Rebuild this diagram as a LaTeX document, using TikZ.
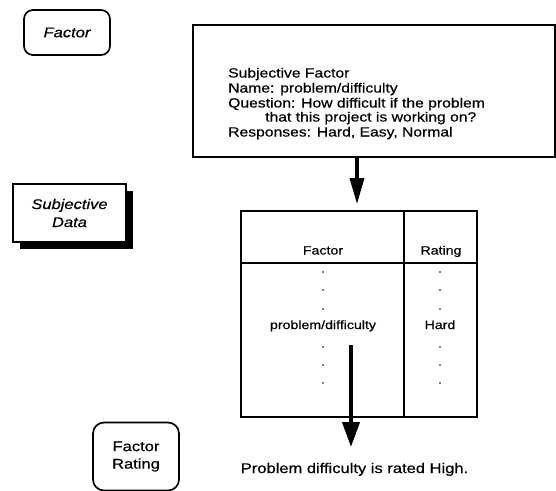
\documentclass[tikz,border=0pt]{standalone}
\usepackage{fontspec}
\setmainfont[FakeStretch=1.18, FakeBold=0.5]{Liberation Sans}
\usetikzlibrary{arrows.meta,shadows}
\begin{document}
\begin{tikzpicture}[x=1pt,y=-1pt,
  tagfont/.style={font=\fontsize{14}{17.5}\selectfont},
  tagbox/.style={draw, line width=1.7pt, rounded corners=9pt, align=center, inner sep=0pt, tagfont},
  shadowbox/.style={draw, fill=white, line width=1.6pt, align=center, inner sep=0pt, tagfont,
    drop shadow={shadow xshift=7pt, shadow yshift=-7pt, fill=black, opacity=1}},
  formbox/.style={draw, line width=2.3pt, inner sep=0pt},
  formtext/.style={font=\fontsize{13.3}{15}\selectfont, anchor=base west, inner sep=0pt},
  celltext/.style={font=\fontsize{12}{14}\selectfont, anchor=base, inner sep=0pt},
  celldot/.style={circle, fill, inner sep=0pt, minimum size=1.7pt},
  rule/.style={line width=1.8pt},
  bigarrow/.style={line width=3.5pt, -{Triangle[length=26pt,width=14pt]}},
  widearrow/.style={line width=4pt, -{Triangle[length=25pt,width=17pt]}},
]
\useasboundingbox (0,0) rectangle (556,490);

% legend tags on the left
\node[tagbox, font=\fontsize{14}{17.5}\selectfont\itshape, minimum width=86pt, minimum height=45pt] (factor) at (67,32.5) {Factor};
\node[shadowbox, font=\fontsize{14}{18}\selectfont\itshape, minimum width=113pt, minimum height=58pt] (subj) at (69.5,213) {Subjective\\Data};
\node[tagbox, rounded corners=11pt, minimum width=86pt, minimum height=68pt] (frating) at (136,456.5) {Factor\\Rating};

% subjective factor definition form
\node[formbox, minimum width=362pt, minimum height=132pt] (form) at (374,91) {};
\node[formtext] (l1) at (228,77.5) {Subjective Factor};
\node[formtext] (l2) at (228,92.5) {Name: problem/difficulty};
\node[formtext] (l3) at (228,107.5) {Question: How difficult if the problem};
\node[formtext] (l4) at (265,121.5) {that this project is working on?};
\node[formtext] (l5) at (228,136.5) {Responses: Hard, Easy, Normal};

% rating table
\node[draw, line width=1.8pt, minimum width=236pt, minimum height=206pt, inner sep=0pt] (tbl) at (359,314) {};
\draw[rule] (tbl.west |- 0,263) -- (tbl.east |- 0,263);
\draw[rule] (tbl.north -| 404,0) -- (tbl.south -| 404,0);
\node[celltext] (hfactor) at (323,254.5) {Factor};
\node[celltext] (hrating) at (441,254.5) {Rating};
\node[celltext] (vfactor) at (323,329) {problem/difficulty};
\node[celltext] (vrating) at (440,329) {Hard};
\foreach \y [count=\i] in {272,290,309,347,365,383} {
  \node[celldot] (fd\i) at (323,\y) {};
  \node[celldot] (rd\i) at (440,\y) {};
}

% result statement
\node[font=\fontsize{14}{17}\selectfont, anchor=base, inner sep=0pt] (verdict) at (354.5,473) {Problem difficulty is rated High.};

% flow arrows
\draw[bigarrow, shorten >=6pt] (form.south -| 357,0) -- (tbl.north -| 357,0);
\coordinate (a2) at (351,345);
\draw[widearrow] (a2) -- (a2 |- 0,447);
\end{tikzpicture}
\end{document}
